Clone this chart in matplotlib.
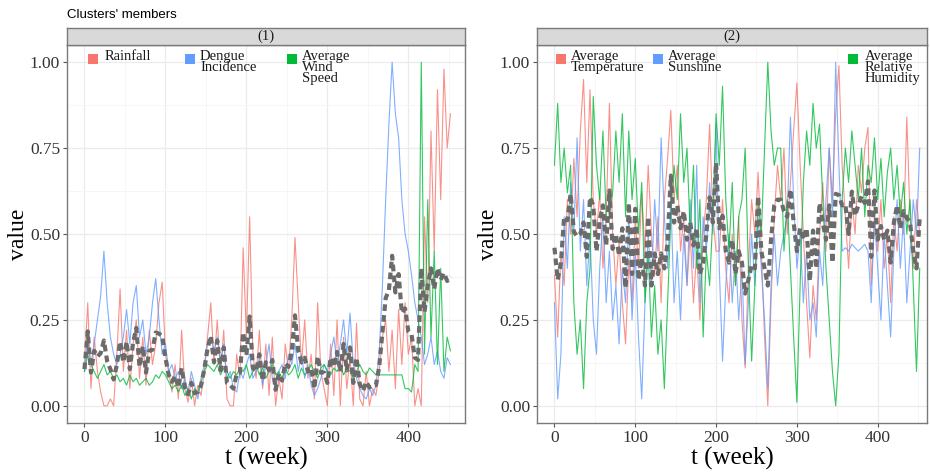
import numpy as np
import matplotlib.pyplot as plt
from matplotlib.patches import Rectangle

# weeks sampled every 4 weeks
weeks = np.arange(0, 453, 4)

# cluster (1)
rainfall = [0.12, 0.30, 0.05, 0.20, 0.10, 0.04, 0.00, 0.00, 0.02, 0.00,
            0.15, 0.34, 0.10, 0.22, 0.05, 0.18, 0.25, 0.08, 0.20, 0.06,
            0.22, 0.12, 0.18, 0.30, 0.36, 0.15, 0.10, 0.04, 0.12, 0.02,
            0.22, 0.05, 0.01, 0.08, 0.00, 0.06, 0.03, 0.10, 0.20, 0.30,
            0.12, 0.25, 0.10, 0.22, 0.02, 0.00, 0.00, 0.15, 0.08, 0.46,
            0.20, 0.55, 0.15, 0.08, 0.22, 0.05, 0.18, 0.03, 0.20, 0.00,
            0.08, 0.02, 0.18, 0.10, 0.25, 0.49, 0.30, 0.12, 0.25, 0.08,
            0.15, 0.02, 0.30, 0.10, 0.05, 0.00, 0.18, 0.03, 0.25, 0.00,
            0.20, 0.05, 0.14, 0.00, 0.24, 0.02, 0.00, 0.10, 0.00, 0.05,
            0.03, 0.10, 0.20, 0.25, 0.10, 0.22, 0.05, 0.28, 0.12, 0.30,
            0.15, 0.20, 0.00, 0.05, 0.00, 0.55, 0.30, 0.80, 0.45, 0.92,
            0.60, 0.98, 0.75, 0.85]
dengue = [0.10, 0.20, 0.12, 0.18, 0.25, 0.32, 0.45, 0.30, 0.20, 0.15,
          0.12, 0.15, 0.20, 0.28, 0.18, 0.30, 0.35, 0.20, 0.25, 0.15,
          0.20, 0.30, 0.37, 0.25, 0.15, 0.18, 0.10, 0.12, 0.08, 0.10,
          0.05, 0.08, 0.04, 0.10, 0.06, 0.02, 0.08, 0.12, 0.18, 0.20,
          0.16, 0.20, 0.12, 0.18, 0.08, 0.10, 0.05, 0.04, 0.10, 0.08,
          0.12, 0.15, 0.08, 0.10, 0.14, 0.06, 0.12, 0.18, 0.08, 0.05,
          0.10, 0.12, 0.08, 0.15, 0.12, 0.18, 0.10, 0.15, 0.08, 0.12,
          0.06, 0.03, 0.05, 0.08, 0.12, 0.10, 0.15, 0.20, 0.12, 0.18,
          0.25, 0.15, 0.27, 0.12, 0.08, 0.05, 0.03, 0.02, 0.05, 0.03,
          0.06, 0.15, 0.35, 0.60, 0.82, 1.00, 0.85, 0.78, 0.60, 0.50,
          0.45, 0.38, 0.30, 0.25, 0.20, 0.12, 0.15, 0.20, 0.12, 0.16,
          0.10, 0.08, 0.14, 0.12]
wind = [0.10, 0.15, 0.12, 0.10, 0.08, 0.10, 0.12, 0.09, 0.10, 0.08,
        0.09, 0.07, 0.08, 0.06, 0.09, 0.07, 0.08, 0.06, 0.07, 0.08,
        0.06, 0.07, 0.09, 0.08, 0.10, 0.09, 0.07, 0.05, 0.06, 0.04,
        0.06, 0.03, 0.05, 0.02, 0.05, 0.04, 0.07, 0.10, 0.12, 0.11,
        0.10, 0.12, 0.09, 0.11, 0.10, 0.08, 0.10, 0.09, 0.11, 0.10,
        0.12, 0.08, 0.10, 0.12, 0.09, 0.11, 0.08, 0.10, 0.12, 0.09,
        0.10, 0.08, 0.11, 0.09, 0.10, 0.12, 0.08, 0.11, 0.09, 0.10,
        0.12, 0.10, 0.08, 0.11, 0.12, 0.10, 0.09, 0.11, 0.10, 0.12,
        0.09, 0.11, 0.10, 0.08, 0.10, 0.12, 0.10, 0.09, 0.11, 0.10,
        0.09, 0.09, 0.09, 0.09, 0.09, 0.09, 0.09, 0.09, 0.09, 0.05,
        0.05, 0.04, 0.12, 0.10, 1.00, 0.15, 0.60, 0.20, 0.45, 0.12,
        0.40, 0.10, 0.20, 0.16]

# cluster (2)
temperature = [0.38, 0.20, 0.45, 0.35, 0.60, 0.50, 0.72, 0.55, 0.80, 0.95,
               0.65, 0.92, 0.60, 0.50, 0.62, 0.40, 0.55, 0.88, 0.50, 0.35,
               0.48, 0.30, 0.18, 0.42, 0.30, 0.55, 0.40, 0.62, 0.45, 0.70,
               0.50, 0.38, 0.55, 0.30, 0.60, 0.72, 0.86, 0.60, 0.70, 0.45,
               0.55, 0.35, 0.50, 0.30, 0.45, 0.25, 0.50, 0.60, 0.82, 0.55,
               0.45, 0.45, 0.60, 0.40, 0.30, 0.50, 0.35, 0.55, 0.25, 0.11,
               0.40, 0.60, 0.50, 0.68, 0.45, 0.20, 0.00, 0.30, 0.55, 0.70,
               0.60, 0.75, 0.50, 0.65, 0.80, 0.94, 0.70, 0.50, 0.30, 0.14,
               0.35, 0.25, 0.50, 0.65, 0.45, 0.75, 0.60, 0.85, 0.99, 0.70,
               0.55, 0.40, 0.60, 0.50, 0.70, 0.62, 0.75, 0.81, 0.35, 0.55,
               0.45, 0.60, 0.40, 0.50, 0.30, 0.55, 0.45, 0.60, 0.50, 0.84,
               0.55, 0.40, 0.60, 0.50]
sunshine = [0.30, 0.02, 0.15, 0.55, 0.40, 0.65, 0.50, 0.78, 0.45, 0.60,
            0.35, 0.50, 0.25, 0.15, 0.40, 0.55, 0.30, 0.45, 0.25, 0.35,
            0.18, 0.40, 0.30, 0.55, 0.25, 0.45, 0.20, 0.02, 0.30, 0.50,
            0.35, 0.60, 0.45, 0.78, 0.55, 0.40, 0.60, 0.30, 0.45, 0.25,
            0.50, 0.35, 0.60, 0.40, 0.70, 0.30, 0.55, 0.45, 0.65, 0.50,
            0.82, 0.40, 0.13, 0.35, 0.50, 0.30, 0.45, 0.25, 0.40, 0.12,
            0.30, 0.50, 0.35, 0.55, 0.40, 0.25, 0.05, 0.35, 0.50, 0.35,
            0.45, 0.50, 0.55, 0.84, 0.60, 0.40, 0.50, 0.30, 0.45, 0.25,
            0.30, 0.20, 0.45, 0.35, 0.60, 0.75, 0.55, 1.00, 0.70, 0.45,
            0.46, 0.45, 0.47, 0.46, 0.45, 0.46, 0.47, 0.45, 0.30, 0.55,
            0.40, 0.25, 0.50, 0.35, 0.20, 0.45, 0.60, 0.40, 0.55, 0.30,
            0.45, 0.60, 0.50, 0.75]
humidity = [0.70, 0.88, 0.65, 0.75, 0.62, 0.70, 0.30, 0.15, 0.25, 0.05,
            0.30, 0.40, 0.90, 0.70, 0.60, 0.80, 0.55, 0.55, 0.62, 0.80,
            0.65, 0.85, 0.55, 0.80, 0.60, 0.72, 0.50, 0.65, 0.30, 0.45,
            0.20, 0.35, 0.15, 0.25, 0.05, 0.30, 0.55, 0.70, 0.60, 0.85,
            0.65, 0.75, 0.50, 0.70, 0.40, 0.60, 0.20, 0.45, 0.35, 0.55,
            0.85, 0.70, 0.93, 0.60, 0.45, 0.65, 0.35, 0.55, 0.60, 0.75,
            0.40, 0.13, 0.35, 0.60, 0.50, 0.75, 1.00, 0.80, 0.70, 0.75,
            0.75, 0.45, 0.60, 0.40, 0.20, 0.01, 0.35, 0.65, 0.80, 0.70,
            0.88, 0.75, 0.82, 0.60, 0.40, 0.25, 0.10, 0.00, 0.15, 0.60,
            0.75, 0.65, 0.80, 0.70, 0.60, 0.75, 0.55, 0.70, 0.65, 0.78,
            0.60, 0.72, 0.55, 0.68, 0.75, 0.60, 0.70, 0.55, 0.65, 0.50,
            0.60, 0.35, 0.10, 0.40]

labels1 = ["Rainfall", "Dengue\nIncidence", "Average\nWind\nSpeed"]
labels2 = ["Average\nTemperature", "Average\nSunshine", "Average\nRelative\nHumidity"]
colors = ["#F8766D", "#619CFF", "#00BA38"]

W, H = 930, 473
serif = "Liberation Serif"


def box(x0, y0, x1, y1):
    return [x0 / W, 1 - y1 / H, (x1 - x0) / W, (y1 - y0) / H]


fig = plt.figure(figsize=(W / 100, H / 100), dpi=100)

panels = [
    (box(67, 45, 465, 423), box(67, 28, 465, 45), (-21.6, 470), "(1)",
     [rainfall, dengue, wind], labels1, [88, 185, 287], [105, 200, 302], 19),
    (box(537, 45, 927, 423), box(537, 28, 927, 45), (-21.6, 461), "(2)",
     [temperature, sunshine, humidity], labels2, [556, 653, 848], [571, 668, 865], 489),
]

for rect, srect, xlim, strip, series, labels, kx, tx, ylx in panels:
    ax = fig.add_axes(rect)
    for s, c in zip(series, colors):
        ax.plot(weeks, s, color=c, lw=0.8, alpha=0.8)
    # cluster centroid
    centroid = np.mean(np.array(series), axis=0)
    ax.plot(weeks, centroid, color="#6b6b6b", lw=3.0, ls=(0, (1.6, 1.0)))
    ax.set_xlim(*xlim)
    ax.set_ylim(-0.05, 1.05)
    ax.set_xticks([0, 100, 200, 300, 400])
    ax.set_xticks([50, 150, 250, 350, 450], minor=True)
    ax.set_yticks([0, 0.25, 0.5, 0.75, 1.0])
    ax.set_yticks([0.125, 0.375, 0.625, 0.875], minor=True)
    ax.set_yticklabels(["0.00", "0.25", "0.50", "0.75", "1.00"])
    ax.grid(which="major", color="#EBEBEB", lw=0.9)
    ax.grid(which="minor", color="#F5F5F5", lw=0.6)
    ax.set_axisbelow(True)
    ax.tick_params(which="major", length=3, color="#555555", labelsize=12.5, pad=2)
    ax.tick_params(which="minor", length=0)
    for lab in ax.get_xticklabels() + ax.get_yticklabels():
        lab.set_family(serif)
        lab.set_color("#333333")
    for sp in ax.spines.values():
        sp.set_color("#7a7a7a")
        sp.set_linewidth(1.0)
    ax.set_xlabel("t (week)", family=serif, fontsize=18, labelpad=1)
    fig.text(ylx / W, 1 - 234 / H, "value", family=serif, fontsize=17,
             rotation=90, ha="center", va="center")

    sax = fig.add_axes(srect)
    sax.set_facecolor("#D9D9D9")
    sax.set_xticks([])
    sax.set_yticks([])
    for sp in sax.spines.values():
        sp.set_color("#7a7a7a")
        sp.set_linewidth(1.0)
    sax.text(0.5, 0.5, strip, transform=sax.transAxes, ha="center", va="center",
             family=serif, fontsize=10.5, color="#1a1a1a")

    # legend drawn inside the panel top
    for c, lab, x0, x1 in zip(colors, labels, kx, tx):
        fig.add_artist(Rectangle((x0 / W, 1 - 64 / H), 10 / W, 10 / H,
                                 transform=fig.transFigure, color=c, lw=0))
        fig.text(x1 / W, 1 - 50 / H, lab, family=serif, fontsize=10.5,
                 va="top", ha="left", linespacing=0.8, color="#1a1a1a")

fig.text(67 / W, 1 - 15 / H, "Clusters' members", family="Liberation Sans",
         fontsize=9.5, va="center", ha="left")

fig.savefig("out.png", dpi=100)
